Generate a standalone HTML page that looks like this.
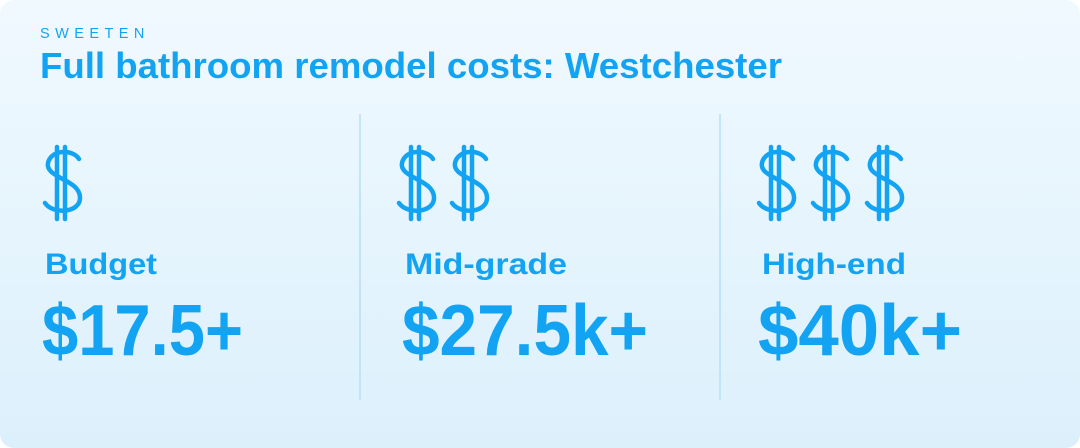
<!DOCTYPE html>
<html><head><meta charset="utf-8"><style>
html,body{margin:0;padding:0;background:#fff;}
svg{display:block;}
text{font-family:"Liberation Sans",Arial,sans-serif;fill:#12a4f2;}
</style></head><body>
<svg width="1080" height="448" viewBox="0 0 1080 448">
<defs>
<linearGradient id="bg" x1="0" y1="0" x2="0" y2="1">
<stop offset="0" stop-color="#f0f9fe"/><stop offset="1" stop-color="#dcf0fc"/>
</linearGradient>
<g id="dollar">
<path d="M36 14 C30 4, 8 4, 5 18 C2 33, 36 34, 37 52 C38 68, 10 70, 2 58" fill="none" stroke="#12a4f2" stroke-width="4.5" stroke-linecap="round"/>
<line x1="14" y1="2" x2="14" y2="74" stroke="#12a4f2" stroke-width="4.5" stroke-linecap="round"/>
<line x1="22" y1="2" x2="22" y2="74" stroke="#12a4f2" stroke-width="4.5" stroke-linecap="round"/>
</g>
</defs>
<rect x="0" y="0" width="1080" height="448" rx="14" fill="url(#bg)"/>
<text x="40" y="38" font-size="14.5" letter-spacing="5.6" textLength="110">SWEETEN</text>
<text x="40" y="78" font-size="36" font-weight="bold" textLength="742" lengthAdjust="spacingAndGlyphs">Full bathroom remodel costs: Westchester</text>
<line x1="360" y1="114" x2="360" y2="400" stroke="#b6dff7" stroke-width="1.5"/>
<line x1="720" y1="114" x2="720" y2="400" stroke="#b6dff7" stroke-width="1.5"/>
<g><use href="#dollar" x="43" y="145"/></g>
<g><use href="#dollar" x="397" y="145"/><use href="#dollar" x="450" y="145"/></g>
<g><use href="#dollar" x="757" y="145"/><use href="#dollar" x="811" y="145"/><use href="#dollar" x="865" y="145"/></g>
<text x="45" y="274" font-size="30" font-weight="bold" textLength="112" lengthAdjust="spacingAndGlyphs">Budget</text>
<text x="405" y="274" font-size="30" font-weight="bold" textLength="162" lengthAdjust="spacingAndGlyphs">Mid-grade</text>
<text x="762" y="274" font-size="30" font-weight="bold" textLength="144" lengthAdjust="spacingAndGlyphs">High-end</text>
<text x="42" y="355" font-size="72" font-weight="bold" textLength="201" lengthAdjust="spacingAndGlyphs">$17.5+</text>
<text x="402" y="355" font-size="72" font-weight="bold" textLength="246" lengthAdjust="spacingAndGlyphs">$27.5k+</text>
<text x="758" y="355" font-size="72" font-weight="bold" textLength="204" lengthAdjust="spacingAndGlyphs">$40k+</text>
</svg>
</body></html>
